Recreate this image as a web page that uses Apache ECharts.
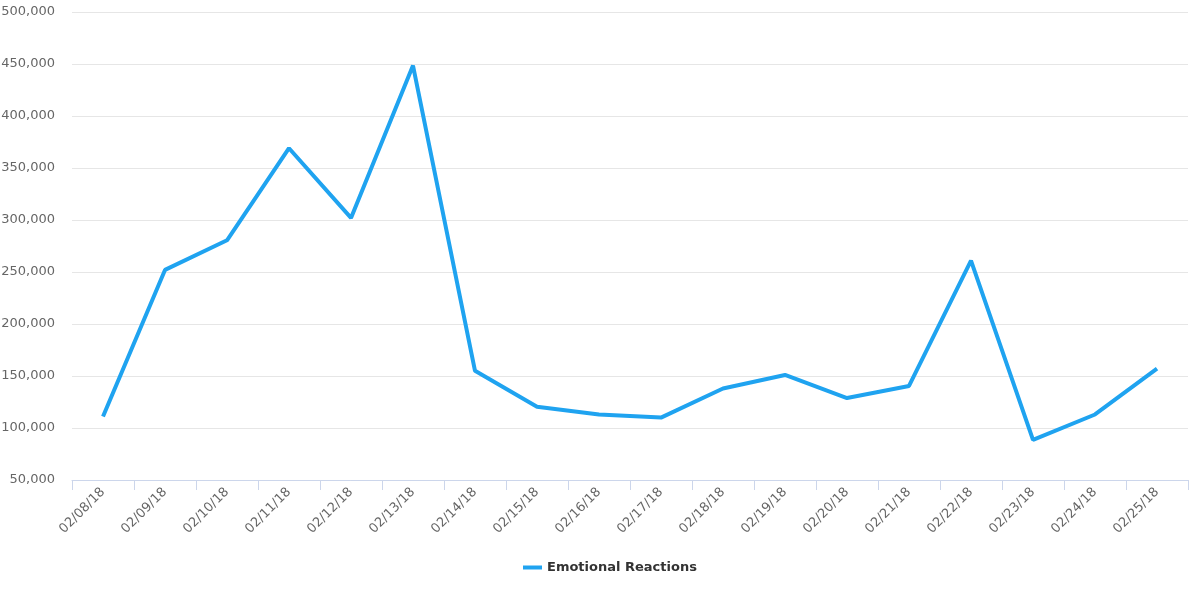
<!DOCTYPE html>
<html>
<head>
<meta charset="utf-8">
<script src="https://cdn.jsdelivr.net/npm/echarts@6/dist/echarts.min.js"></script>
<style>html,body{margin:0;padding:0;background:#fff}#c{width:1200px;height:600px}</style>
</head>
<body>
<div id="c"></div>
<script>
const categories = ['02/08/18','02/09/18','02/10/18','02/11/18','02/12/18','02/13/18','02/14/18','02/15/18','02/16/18','02/17/18','02/18/18','02/19/18','02/20/18','02/21/18','02/22/18','02/23/18','02/24/18','02/25/18'];
const seriesName = 'Emotional Reactions';
const values = [111000, 252000, 280500, 369000, 302000, 448500, 155000, 120500, 113000, 110000, 138000, 151000, 128800, 140400, 261000, 88500, 113000, 157000];

const chart = echarts.init(document.getElementById('c'));
chart.setOption({
  animation: false,
  textStyle: { fontFamily: 'DejaVu Sans' },
  grid: { left: 72, right: 12, top: 12, bottom: 120, containLabel: false, outerBoundsMode: 'none' },
  legend: {
    bottom: 21,
    left: 518,
    icon: 'rect',
    itemWidth: 19,
    itemHeight: 4,
    itemGap: 8,
    textStyle: { color: '#333', fontSize: 13, fontWeight: 'bold', fontFamily: 'DejaVu Sans' },
    data: [seriesName]
  },
  xAxis: {
    type: 'category',
    data: categories,
    boundaryGap: true,
    axisLine: { lineStyle: { color: '#ccd6eb', width: 1 } },
    axisTick: { show: true, length: 10, lineStyle: { color: '#ccd6eb' }, alignWithLabel: false },
    axisLabel: { rotate: 45, color: '#666', fontSize: 13, margin: 10, interval: 0, fontFamily: 'DejaVu Sans' }
  },
  yAxis: {
    type: 'value',
    min: 50000,
    max: 500000,
    interval: 50000,
    axisLine: { show: false },
    axisTick: { show: false },
    splitLine: { lineStyle: { color: '#e6e6e6', width: 1 } },
    axisLabel: {
      color: '#666', fontSize: 13, margin: 17, fontFamily: 'DejaVu Sans',
      formatter: v => v.toLocaleString('en-US')
    }
  },
  series: [{
    name: seriesName,
    type: 'line',
    data: values,
    symbol: 'none',
    lineStyle: { color: '#1fa3f0', width: 4 },
    itemStyle: { color: '#1fa3f0' }
  }]
});
</script>
</body>
</html>
